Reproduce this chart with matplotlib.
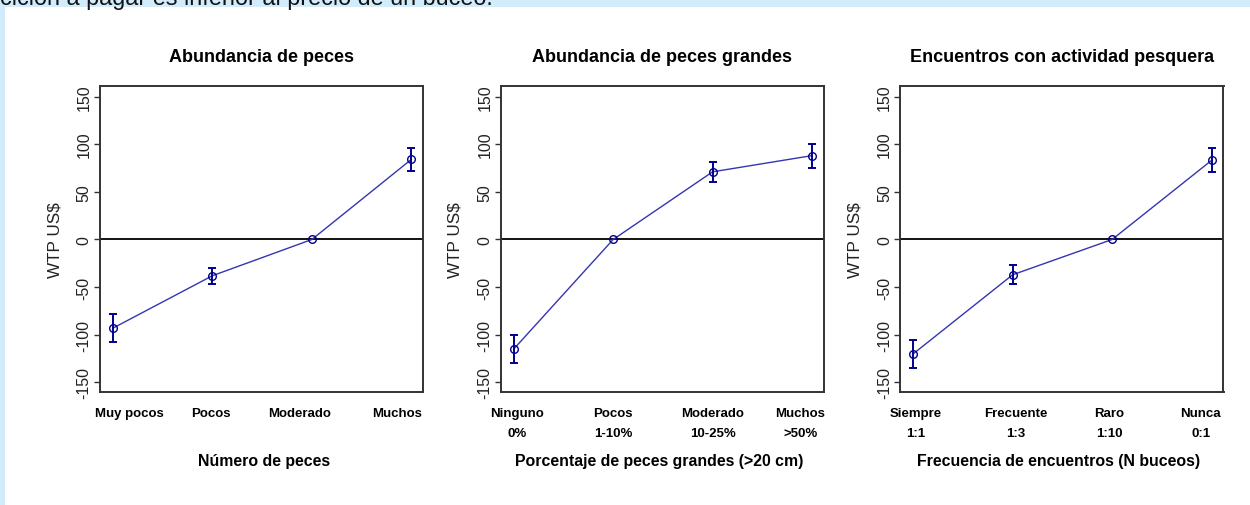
import numpy as np
import matplotlib
matplotlib.use("Agg")
import matplotlib.pyplot as plt
from matplotlib.patches import Rectangle

# data
titles  = ["Abundancia de peces", "Abundancia de peces grandes", "Encuentros con actividad pesquera"]
xlabels = ["Número de peces", "Porcentaje de peces grandes (>20 cm)", "Frecuencia de encuentros (N buceos)"]

cats1 = ["Muy pocos", "Pocos", "Moderado", "Muchos"]
wtp1  = [-93, -38, 0, 84]
err1  = [15, 8.5, 0, 12.5]

cats2 = ["Ninguno\n0%", "Pocos\n1-10%", "Moderado\n10-25%", "Muchos\n>50%"]
wtp2  = [-115, 0, 71, 88]
err2  = [15, 0, 10.5, 12.5]

cats3 = ["Siempre\n1:1", "Frecuente\n1:3", "Raro\n1:10", "Nunca\n0:1"]
wtp3  = [-120, -37, 0, 83]
err3  = [15, 10, 0, 12.5]

yticks = [-150, -100, -50, 0, 50, 100, 150]

# layout
lab_pos = [[1.17, 1.98, 2.88, 3.86], [1.03, 2.0, 3.0, 3.88], [1.03, 2.03, 2.97, 3.89]]
ax_left = [0.080, 0.4006, 0.7202]
xlab_x  = [0.508, 0.490, 0.490]

line_col = "#3535B0"
err_col  = "#00008B"
band_col = "#D3ECFB"

plt.rcParams["font.family"] = ["Liberation Sans", "DejaVu Sans"]

fig = plt.figure(figsize=(12.5, 5.06), dpi=100)
fig.patch.set_facecolor("white")
fig.patches.append(Rectangle((0, 1 - 7.5 / 506), 1, 7.5 / 506, transform=fig.transFigure,
	facecolor=band_col, edgecolor="none", zorder=0))
fig.patches.append(Rectangle((0, 0), 5.0 / 1250, 1, transform=fig.transFigure,
	facecolor=band_col, edgecolor="none", zorder=0))
# cut-off sentence of the surrounding page, only its lower part shows
fig.text(0.0, 1 - 4.5 / 506, "cición a pagar es inferior al precio de un buceo.",
	fontsize=16.8, color="#111111", ha="left", va="baseline")

series = [(cats1, wtp1, err1), (cats2, wtp2, err2), (cats3, wtp3, err3)]

for i in range(3):

	cats, wtp, err = series[i]
	x = np.arange(1, len(cats) + 1)
	wtp = np.asarray(wtp, dtype=float)
	err = np.asarray(err, dtype=float)

	ax = fig.add_axes([ax_left[i], 0.2233, 0.2586, 0.6047])

	ax.axhline(0, color="black", lw=1.3, zorder=1)
	ax.plot(x, wtp, "-", color=line_col, lw=1.0, zorder=2)
	ax.plot(x, wtp, "o", mfc="none", mec=err_col, ms=5.5, mew=1.0, zorder=3)

	has_err = err > 0
	ax.errorbar(x[has_err], wtp[has_err], yerr=err[has_err], fmt="none",
		ecolor=err_col, elinewidth=1.4, capsize=2.7, capthick=1.4, zorder=3)

	ax.set_xlim(0.87, 4.12)
	ax.set_ylim(-160, 161)

	ax.set_yticks(yticks)
	ax.set_yticklabels([str(v) for v in yticks], rotation=90, fontsize=11.5, color="#222222")
	for lab in ax.get_yticklabels():
		lab.set_va("center")
	ax.tick_params(axis="y", length=4.5, width=1.0, pad=1.5, color="#333333")

	ax.set_xticks(lab_pos[i])
	ax.set_xticklabels(cats, fontsize=9.5, fontweight="bold", linespacing=1.95)
	ax.tick_params(axis="x", length=0, pad=10.5)

	for sp in ax.spines.values():
		sp.set_linewidth(1.4)
		sp.set_color("#333333")

	ax.set_title(titles[i], fontsize=13, fontweight="bold", pad=18)
	ax.text(-0.14, 0.5, "WTP US$", transform=ax.transAxes, rotation=90,
		ha="center", va="center", fontsize=12.3, color="#222222")
	ax.text(xlab_x[i], -0.225, xlabels[i], transform=ax.transAxes,
		ha="center", va="center", fontsize=11.4, fontweight="bold")

fig.savefig("out.png", dpi=100, facecolor="white")
